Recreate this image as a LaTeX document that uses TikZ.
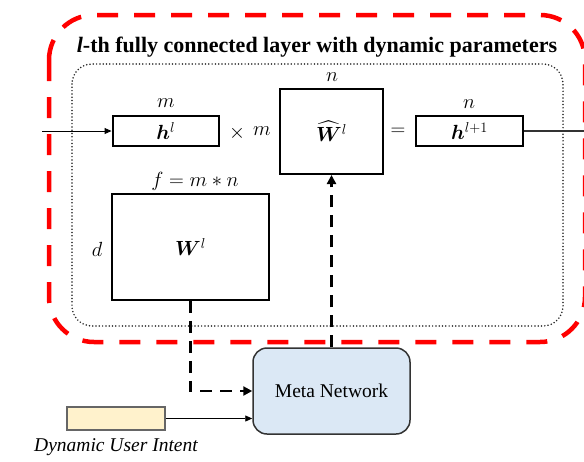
\RequirePackage{fix-cm}
\documentclass[tikz,border=0pt]{standalone}
\usepackage{amsmath}
\usepackage{bm}
\usepackage{fontspec}
\setmainfont{Liberation Serif}
\usetikzlibrary{arrows.meta}

\definecolor{metafill}{HTML}{DBE8F5}
\definecolor{intentfill}{HTML}{FFF2CC}
\definecolor{framered}{HTML}{FF0000}

\tikzset{
  mathlbl/.style={font=\fontsize{20.5}{24}\selectfont, inner sep=0pt},
  vecbox/.style={draw, line width=2pt, minimum width=106.5pt, minimum height=30pt,
                 inner sep=0pt, font=\fontsize{20.5}{24}\selectfont},
  matbox/.style={draw, line width=2pt, inner sep=0pt, font=\fontsize{20.5}{24}\selectfont},
  thinarrow/.style={line width=0.9pt, -{Triangle[length=7pt,width=6pt]}},
  dasharrow/.style={line width=2.8pt, dash pattern=on 12pt off 8pt,
                    -{Triangle[length=9pt,width=9pt]}},
}

\begin{document}
\begin{tikzpicture}[x=1pt, y=-1pt]
  \useasboundingbox (0,0) rectangle (584,461);

  % outer red frame around the layer
  \draw[framered, line width=4.5pt, dash pattern=on 21pt off 16pt, rounded corners=45pt]
    (49,15) rectangle (585,342);

  % title
  \node[anchor=base, inner sep=0pt, font=\fontsize{22}{26}\selectfont\bfseries]
    (title) at (317,52) {\textit{l}-th fully connected layer with dynamic parameters};

  % dotted inner frame
  \draw[black!85, line width=1.7pt, line cap=round, dash pattern=on 0pt off 3.3pt,
        rounded corners=20pt]
    (72,64) rectangle (563,326);

  % forward pass row
  \node[vecbox] (hl) at (165.8,131) {$\bm{h}^{l}$};
  \node[mathlbl] (lm) at (166,103) {$m$};
  \node[mathlbl] (times) at (237,133) {$\times$};
  \node[mathlbl] (tm) at (262,131) {$m$};
  \node[matbox, minimum width=103pt, minimum height=85pt] (What) at (331.5,131.5)
    {$\widehat{\bm{W}}^{l}$};
  \node[mathlbl] (wn) at (332,77) {$n$};
  \node[mathlbl] (eq) at (398,132) {$=$};
  \node[vecbox] (hn) at (469.5,131) {$\bm{h}^{l+1}$};
  \node[mathlbl] (hnn) at (469,104) {$n$};

  \coordinate (in) at (42,131);
  \coordinate (out) at (584,131);
  \draw[thinarrow] (in) -- (hl.west);
  \draw[line width=1.3pt, black!80] (hn.east) -- (out);

  % static parameter matrix
  \node[matbox, minimum width=157pt, minimum height=105.5pt] (Wl) at (190.5,247)
    {$\bm{W}^{l}$};
  \node[mathlbl] (fl) at (195,181) {$f = m \ast n$};
  \node[mathlbl] (dl) at (97,249) {$d$};

  % meta network and its inputs
  \node[draw=black!80, line width=1.5pt, fill=metafill, rounded corners=14pt,
        minimum width=157pt, minimum height=86pt, inner sep=0pt,
        font=\fontsize{19.5}{23}\selectfont] (meta) at (331.5,391) {Meta Network};
  \node[draw=black!60, line width=1.2pt, fill=intentfill, minimum width=98pt,
        minimum height=23pt, inner sep=0pt] (intent) at (116,418.5) {};
  \node[font=\fontsize{19.5}{23}\selectfont\itshape, inner sep=0pt]
    (intentlbl) at (116,447) {Dynamic User Intent};

  \coordinate (bend) at (Wl.south |- meta.west);
  \draw[thinarrow] (intent.east) -- (intent.east -| meta.west);
  \draw[dasharrow] (Wl.south) -- (bend) -- (meta.west);
  \draw[dasharrow] (meta.north -| What.south) -- (What.south);
\end{tikzpicture}
\end{document}
